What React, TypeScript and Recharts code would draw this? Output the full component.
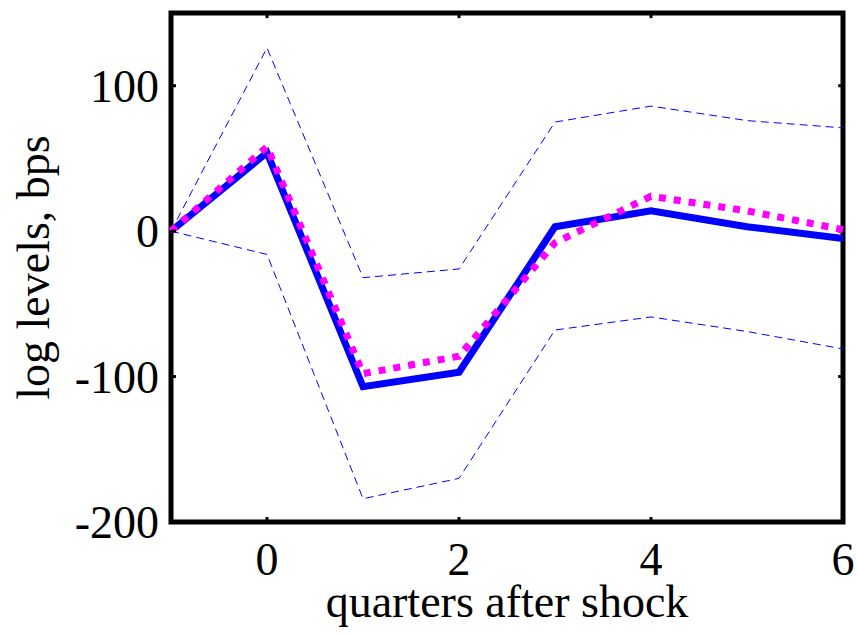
import React from 'react';
import { LineChart, Line, XAxis, YAxis, ReferenceArea, ReferenceLine } from 'recharts';

const quarters = [-1, 0, 1, 2, 3, 4, 5, 6];
const pointEstimate = [0, 54, -107, -97, 3, 14, 3, -5];
const altEstimate = [0, 58, -98, -86, -8, 24, 14, 1];
const upperBand = [0, 126, -32, -26, 75, 86, 76, 71];
const lowerBand = [0, -16, -184, -170, -68, -59, -69, -81];
const xTicks = [0, 2, 4, 6];
const yTicks = [-200, -100, 0, 100];
const X_MIN = -1;
const X_MAX = 6;
const Y_MIN = -200;
const Y_MAX = 150;

const data = quarters.map((q, i) => ({
  q,
  est: pointEstimate[i],
  alt: altEstimate[i],
  up: upperBand[i],
  lo: lowerBand[i],
}));

const FONT = '"Liberation Serif", "Times New Roman", serif';
const TICK_X_LEN = 0.05;
const TICK_Y_LEN = 3.5;

export default function App() {
  return (
    <div style={{ position: 'absolute', left: 0, top: 0, width: 857, height: 636, background: '#fff' }}>
      <LineChart width={857} height={636} data={data} margin={{ top: 13, right: 14, bottom: 0, left: 0 }}>
        <XAxis
          dataKey="q"
          type="number"
          domain={[X_MIN, X_MAX]}
          ticks={xTicks}
          axisLine={false}
          tickLine={{ stroke: '#000', strokeWidth: 3 }}
          tickSize={-5}
          height={114}
          tickMargin={25}
          tick={{ fontFamily: FONT, fontSize: 46, fill: '#000' }}
          label={{ value: 'quarters after shock', position: 'insideBottom', offset: 19, fontFamily: FONT, fontSize: 46, fill: '#000' }}
        />
        <YAxis
          type="number"
          domain={[Y_MIN, Y_MAX]}
          ticks={yTicks}
          axisLine={false}
          tickLine={{ stroke: '#000', strokeWidth: 3 }}
          tickSize={-5}
          width={171}
          tickMargin={17}
          tick={{ fontFamily: FONT, fontSize: 46, fill: '#000' }}
          label={{ value: 'log levels, bps', angle: -90, position: 'insideLeft', offset: 33, fontFamily: FONT, fontSize: 46, fill: '#000', style: { textAnchor: 'middle' } }}
        />
        <ReferenceArea
          x1={X_MIN}
          x2={X_MAX}
          y1={Y_MIN}
          y2={Y_MAX}
          fill="none"
          fillOpacity={0}
          stroke="#000"
          strokeWidth={5}
          strokeOpacity={1}
        />
        {xTicks.map((t) => (
          <ReferenceLine
            key={'tx' + t}
            segment={[{ x: t, y: Y_MAX }, { x: t, y: Y_MAX - TICK_Y_LEN }]}
            stroke="#000"
            strokeWidth={3}
          />
        ))}
        {yTicks.map((t) => (
          <ReferenceLine
            key={'ty' + t}
            segment={[{ x: X_MAX, y: t }, { x: X_MAX - TICK_X_LEN, y: t }]}
            stroke="#000"
            strokeWidth={3}
          />
        ))}
        <Line dataKey="up" stroke="#0000FF" strokeWidth={1} strokeDasharray="8 5" dot={false} isAnimationActive={false} />
        <Line dataKey="lo" stroke="#0000FF" strokeWidth={1} strokeDasharray="8 5" dot={false} isAnimationActive={false} />
        <Line dataKey="est" stroke="#0000FF" strokeWidth={7} dot={false} strokeLinejoin="miter" isAnimationActive={false} />
        <Line dataKey="alt" stroke="#FF00FF" strokeWidth={7} strokeDasharray="7 8" dot={false} isAnimationActive={false} />
      </LineChart>
    </div>
  );
}
